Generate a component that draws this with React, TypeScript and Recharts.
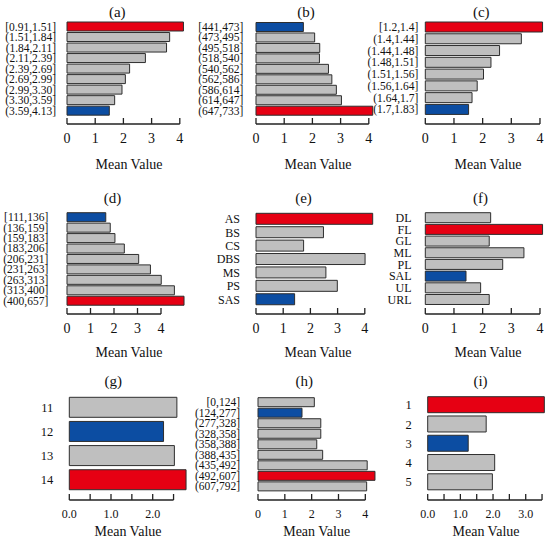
import React from 'react';
import { BarChart, Bar, XAxis, YAxis, Cell } from 'recharts';

const FONT = '"Liberation Serif", "Times New Roman", serif';
const GRAY = '#bfbfbf';
const RED = '#e60013';
const BLUE = '#0c4da2';
const EDGE = '#2e2e2e';
const INK = '#111';
const W = 550;
const H = 542;

// (a)
const aLabels = ['[0.91,1.51]', '(1.51,1.84]', '(1.84,2.11]', '(2.11,2.39]', '(2.39,2.69]', '(2.69,2.99]', '(2.99,3.30]', '(3.30,3.59]', '(3.59,4.13]'];
const aValues = [4.13, 3.64, 3.53, 2.78, 2.22, 2.07, 1.95, 1.69, 1.5];
// (b)
const bLabels = ['[441,473]', '(473,495]', '(495,518]', '(518,540]', '(540,562]', '(562,586]', '(586,614]', '(614,647]', '(647,733]'];
const bValues = [1.68, 2.08, 2.26, 2.25, 2.57, 2.69, 2.85, 3.03, 4.14];
// (c)
const cLabels = ['[1.2,1.4]', '(1.4,1.44]', '(1.44,1.48]', '(1.48,1.51]', '(1.51,1.56]', '(1.56,1.64]', '(1.64,1.7]', '(1.7,1.83]'];
const cValues = [4.09, 3.35, 2.59, 2.29, 2.03, 1.81, 1.63, 1.51];
// (d)
const dLabels = ['[111,136]', '(136,159]', '(159,183]', '(183,206]', '(206,231]', '(231,263]', '(263,313]', '(313,400]', '(400,657]'];
const dValues = [1.65, 1.84, 2.04, 2.44, 3.05, 3.55, 4.01, 4.57, 4.98];
// (e)
const eLabels = ['AS', 'BS', 'CS', 'DBS', 'MS', 'PS', 'SAS'];
const eValues = [4.29, 2.48, 1.75, 4.01, 2.57, 2.99, 1.42];
// (f)
const fLabels = ['DL', 'FL', 'GL', 'ML', 'PL', 'SAL', 'UL', 'URL'];
const fValues = [2.28, 4.09, 2.23, 3.44, 2.7, 1.42, 1.93, 2.23];
// (g)
const gLabels = ['11', '12', '13', '14'];
const gValues = [2.58, 2.26, 2.52, 2.8];
// (h)
const hLabels = ['[0,124]', '(124,277]', '(277,328]', '(328,358]', '(358,388]', '(388,435]', '(435,492]', '(492,607]', '(607,792]'];
const hValues = [2.1, 1.64, 2.34, 2.34, 2.19, 2.41, 4.07, 4.36, 4.05];
// (i)
const iLabels = ['1', '2', '3', '4', '5'];
const iValues = [3.57, 1.79, 1.24, 2.05, 1.98];

const intTicks = [0, 1, 2, 3, 4];
const gTicks = [0, 0.5, 1, 1.5, 2, 2.5];
const iTicks = [0, 0.5, 1, 1.5, 2, 2.5, 3, 3.5];

type Row = { titleY: number; lineY: number; tickY: number; meanY: number; tickFont: number };
const rows: Row[] = [
  { titleY: 12, lineY: 124, tickY: 138, meanY: 165, tickFont: 14 },
  { titleY: 198, lineY: 314, tickY: 328, meanY: 353, tickFont: 14 },
  { titleY: 380.5, lineY: 500, tickY: 514, meanY: 532, tickFont: 12 },
];

type Panel = {
  title: string;
  labels: string[];
  values: number[];
  ticks: number[];
  decimals: number;
  row: number;
  x0: number; // pixel of zero
  k: number; // pixels per unit
  barTop: number;
  barBottom: number;
  labelGap: number;
  catFont: number;
  titleX: number;
  meanX: number;
};

const panels: Panel[] = [
  { title: '(a)', labels: aLabels, values: aValues, ticks: intTicks, decimals: 0, row: 0, x0: 67, k: 28.2, barTop: 22, barBottom: 115, labelGap: 11, catFont: 11.5, titleX: 117.3, meanX: 129 },
  { title: '(b)', labels: bLabels, values: bValues, ticks: intTicks, decimals: 0, row: 0, x0: 256, k: 28.2, barTop: 22.5, barBottom: 115, labelGap: 12.7, catFont: 11.5, titleX: 306, meanX: 318 },
  { title: '(c)', labels: cLabels, values: cValues, ticks: intTicks, decimals: 0, row: 0, x0: 425.3, k: 28.67, barTop: 22, barBottom: 114.3, labelGap: 7, catFont: 11.5, titleX: 481.3, meanX: 488 },
  { title: '(d)', labels: dLabels, values: dValues, ticks: intTicks, decimals: 0, row: 1, x0: 67, k: 23.5, barTop: 212.7, barBottom: 305, labelGap: 18.7, catFont: 11.5, titleX: 112.5, meanX: 129 },
  { title: '(e)', labels: eLabels, values: eValues, ticks: intTicks, decimals: 0, row: 1, x0: 256, k: 27.2, barTop: 213.3, barBottom: 305, labelGap: 16, catFont: 12, titleX: 303.5, meanX: 318 },
  { title: '(f)', labels: fLabels, values: fValues, ticks: intTicks, decimals: 0, row: 1, x0: 425.3, k: 28.67, barTop: 212.7, barBottom: 304.3, labelGap: 13.7, catFont: 12, titleX: 480.5, meanX: 488 },
  { title: '(g)', labels: gLabels, values: gValues, ticks: gTicks, decimals: 1, row: 2, x0: 69.3, k: 41.7, barTop: 397.3, barBottom: 490, labelGap: 16, catFont: 12.5, titleX: 113.3, meanX: 128 },
  { title: '(h)', labels: hLabels, values: hValues, ticks: intTicks, decimals: 0, row: 2, x0: 258, k: 26.83, barTop: 397.7, barBottom: 490.7, labelGap: 18, catFont: 11.5, titleX: 304.3, meanX: 316.7 },
  { title: '(i)', labels: iLabels, values: iValues, ticks: iTicks, decimals: 1, row: 2, x0: 427.7, k: 32.67, barTop: 396.7, barBottom: 490, labelGap: 16, catFont: 12.5, titleX: 480.5, meanX: 486 },
];

function Caption({ x, y, size, text }: { x: number; y: number; size: number; text: string }) {
  return (
    <div
      style={{
        position: 'absolute',
        left: x,
        top: y,
        transform: 'translate(-50%, -50%)',
        fontFamily: FONT,
        fontSize: size,
        lineHeight: 1,
        whiteSpace: 'nowrap',
        color: INK,
      }}
    >
      {text}
    </div>
  );
}

function PanelChart({ p }: { p: Panel }) {
  const row = rows[p.row];
  const n = p.labels.length;
  const gapFrac = 0.08;
  const band = (p.barBottom - p.barTop) / (n - 2 * gapFrac);
  const plotTop = p.barTop - gapFrac * band;
  const plotBottom = p.barBottom + gapFrac * band;
  const max = Math.max(...p.values);
  const min = Math.min(...p.values);
  const plotRight = p.x0 + max * p.k;
  const data = p.labels.map((name, i) => ({ name, value: p.values[i] }));
  const lastTick = p.ticks[p.ticks.length - 1];

  // axis line sits under the tick marks, which point up towards the bars
  const renderTick = (props: any) => {
    const { x, payload } = props;
    const v = payload.value as number;
    const major = Math.abs(v - Math.round(v)) < 1e-9;
    return (
      <g>
        {v === 0 && (
          <line x1={x} x2={x + lastTick * p.k} y1={row.lineY} y2={row.lineY} stroke="#222" strokeWidth={1.3} />
        )}
        <line x1={x} x2={x} y1={row.lineY - 6} y2={row.lineY} stroke="#222" strokeWidth={1.3} />
        {major && (
          <text x={x} y={row.tickY} textAnchor="middle" dominantBaseline="central" fill={INK} fontSize={row.tickFont} fontFamily={FONT}>
            {v.toFixed(p.decimals)}
          </text>
        )}
      </g>
    );
  };

  return (
    <>
      <div style={{ position: 'absolute', left: 0, top: 0 }}>
        <BarChart
          width={W}
          height={H}
          data={data}
          layout="vertical"
          margin={{ top: plotTop, right: W - plotRight, bottom: 0, left: 0 }}
          barCategoryGap="8%"
        >
          <XAxis
            type="number"
            domain={[0, max]}
            ticks={p.ticks}
            interval={0}
            height={H - plotBottom}
            axisLine={false}
            tickLine={false}
            tick={renderTick}
          />
          <YAxis
            type="category"
            dataKey="name"
            width={p.x0}
            axisLine={false}
            tickLine={false}
            tickSize={0}
            tickMargin={p.labelGap}
            interval={0}
            tick={{ fill: INK, fontSize: p.catFont, fontFamily: FONT }}
          />
          <Bar dataKey="value" stroke={EDGE} strokeWidth={1} isAnimationActive={false}>
            {data.map((d, i) => (
              <Cell key={`cell-${i}`} fill={d.value === max ? RED : d.value === min ? BLUE : GRAY} />
            ))}
          </Bar>
        </BarChart>
      </div>
      <Caption x={p.titleX} y={row.titleY} size={15} text={p.title} />
      <Caption x={p.meanX} y={row.meanY} size={14} text="Mean Value" />
    </>
  );
}

export default function App() {
  return (
    <div style={{ position: 'absolute', left: 0, top: 0, width: W, height: H, background: '#fff', overflow: 'hidden' }}>
      {panels.map((p) => (
        <PanelChart key={p.title} p={p} />
      ))}
    </div>
  );
}
